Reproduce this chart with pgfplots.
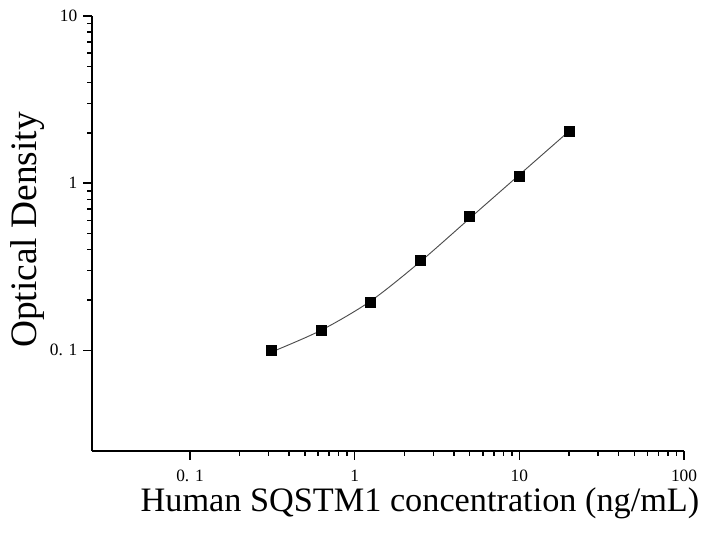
\documentclass[border=0pt]{standalone}
\usepackage{fontspec}
\setmainfont{Liberation Serif}
\usepackage{pgfplots}
\pgfplotsset{compat=1.18}

\begin{document}
\begin{tikzpicture}
\begin{axis}[
  name=ax,
  scale only axis,
  width=444pt, height=326.25pt,
  xmode=log, ymode=log,
  xmin=0.0254, xmax=100,
  ymin=0.025, ymax=10,
  axis lines=left,
  axis line style={-, line width=1.5pt},
  tick align=outside,
  major tick length=6.5pt,
  minor tick length=3.5pt,
  every major tick/.append style={line width=1.2pt, black},
  every minor tick/.append style={line width=1.1pt, black},
  xtick={0.1,1,10,100},
  xticklabels={0. 1, 1, 10, 100},
  ytick={0.1,1,10},
  yticklabels={0. 1, 1, 10},
  every tick label/.append style={font=\fontsize{13pt}{15pt}\selectfont},
  xticklabel style={inner sep=0.5pt, yshift=-7pt},
  yticklabel style={xshift=-1pt},
  xlabel={Human SQSTM1 concentration (ng/mL)},
  ylabel={Optical Density},
  xlabel style={font=\fontsize{25.7pt}{28pt}\selectfont, inner sep=0pt,
    at={(axis description cs:0.554,-0.138)}, anchor=base},
  ylabel style={font=\fontsize{28pt}{30pt}\selectfont,
    at={(axis description cs:-0.108,0.508)}, anchor=center, rotate=0},
  clip=false,
]
% fitted curve
\addplot[gray!60!black, line width=0.7pt, smooth, no marks]
  coordinates {(0.3125,0.0977) (0.625,0.1318) (1.25,0.1972) (2.5,0.3388)
               (5,0.6166) (10,1.122) (20,2.042)};
\addplot[only marks, mark=square*, mark size=3.75pt, black]
  coordinates {(0.3125,0.100) (0.625,0.132) (1.25,0.194) (2.5,0.346)
               (5,0.634) (10,1.10) (20,2.05)};
\end{axis}
\path (ax.south west) ++(-69pt,-61.5pt) rectangle ++(528pt,399.75pt);
\end{tikzpicture}
\end{document}
